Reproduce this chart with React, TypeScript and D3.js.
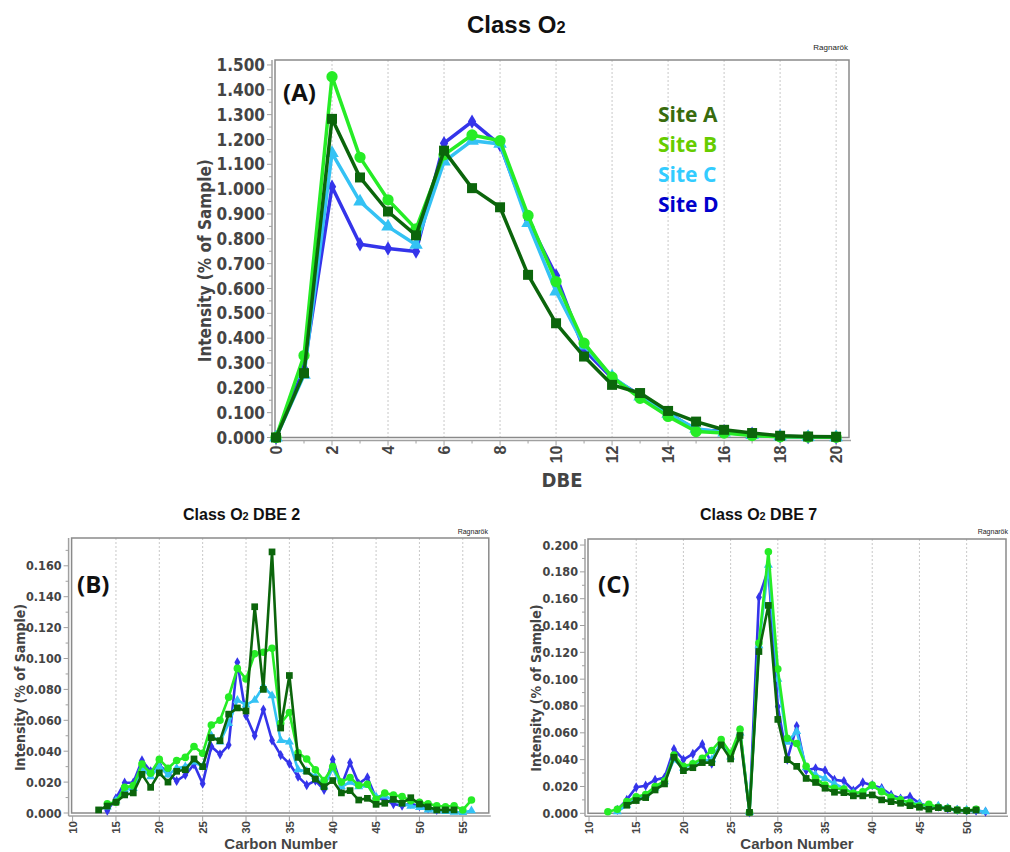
import React from 'react';
import * as d3 from 'd3';

// ---------- DATA ----------
const dbeValues = [0, 1, 2, 3, 4, 5, 6, 7, 8, 9, 10, 11, 12, 13, 14, 15, 16, 17, 18, 19, 20];
const dbeA = [0, 0.259, 1.283, 1.047, 0.910, 0.814, 1.155, 1.004, 0.927, 0.655, 0.460, 0.326, 0.212, 0.179, 0.107, 0.064, 0.031, 0.018, 0.007, 0.004, 0.003];
const dbeB = [0, 0.330, 1.453, 1.128, 0.957, 0.840, 1.138, 1.218, 1.195, 0.894, 0.628, 0.380, 0.243, 0.158, 0.085, 0.024, 0.018, 0.008, 0.003, 0.002, 0.001];
const dbeC = [0, 0.252, 1.145, 0.950, 0.849, 0.776, 1.111, 1.195, 1.182, 0.863, 0.588, 0.370, 0.245, 0.165, 0.095, 0.035, 0.020, 0.010, 0.004, 0.002, 0.001];
const dbeD = [0, 0.279, 1.010, 0.778, 0.761, 0.749, 1.185, 1.272, 1.178, 0.876, 0.652, 0.353, 0.240, 0.170, 0.100, 0.030, 0.025, 0.015, 0.005, 0.002, 0.001];

// DBE 2 by carbon number (first carbon number, then values)
const dbe2StartA = 13;
const dbe2A = [0.002, 0.0045, 0.007, 0.0117, 0.013, 0.025, 0.0166, 0.026, 0.020, 0.027, 0.028, 0.035, 0.030, 0.0488, 0.0468, 0.064, 0.068, 0.066, 0.1335, 0.080, 0.169, 0.055, 0.089, 0.036, 0.027, 0.022, 0.017, 0.021, 0.013, 0.0145, 0.0084, 0.0095, 0.0056, 0.0063, 0.0088, 0.0063, 0.0099, 0.0058, 0.004, 0.002, 0.002, 0.002];
const dbe2StartB = 14;
const dbe2B = [0.006, 0.007, 0.0166, 0.0177, 0.0317, 0.0257, 0.0347, 0.029, 0.034, 0.036, 0.043, 0.0386, 0.057, 0.060, 0.075, 0.0936, 0.0867, 0.103, 0.104, 0.1066, 0.058, 0.065, 0.039, 0.035, 0.028, 0.021, 0.030, 0.020, 0.023, 0.018, 0.0186, 0.0088, 0.013, 0.0116, 0.0106, 0.008, 0.007, 0.006, 0.0047, 0.004, 0.0047, 0.002, 0.0084];
const dbe2StartC = 14;
const dbe2C = [0.004, 0.008, 0.015, 0.016, 0.029, 0.0235, 0.030, 0.0246, 0.029, 0.030, 0.033, 0.030, 0.050, 0.046, 0.058, 0.073, 0.070, 0.073, 0.082, 0.076, 0.047, 0.046, 0.028, 0.027, 0.0235, 0.017, 0.029, 0.017, 0.020, 0.017, 0.018, 0.0106, 0.011, 0.0084, 0.006, 0.0045, 0.0037, 0.002, 0.0015, 0.001, 0.0006, 0.0004, 0.0015];
const dbe2StartD = 14;
const dbe2D = [0.0015, 0.0095, 0.0196, 0.0196, 0.034, 0.027, 0.031, 0.026, 0.0207, 0.0246, 0.0315, 0.019, 0.043, 0.038, 0.044, 0.0975, 0.063, 0.050, 0.067, 0.047, 0.0375, 0.032, 0.0235, 0.018, 0.021, 0.015, 0.0347, 0.0177, 0.0326, 0.019, 0.023, 0.0095, 0.0088, 0.0058, 0.0047, 0.006, 0.0045, 0.003, 0.002];

// DBE 7 by carbon number
const dbe7StartA = 14;
const dbe7A = [0.006, 0.0095, 0.0117, 0.0174, 0.0219, 0.0418, 0.0318, 0.034, 0.0378, 0.0378, 0.051, 0.0405, 0.058, 0.0007, 0.1206, 0.155, 0.070, 0.040, 0.035, 0.026, 0.023, 0.0187, 0.0157, 0.0154, 0.013, 0.013, 0.0137, 0.010, 0.0087, 0.0075, 0.0057, 0.0045, 0.003, 0.0042, 0.0035, 0.0025, 0.002, 0.0025];
const dbe7StartB = 12;
const dbe7B = [0.0012, 0.003, 0.0087, 0.0124, 0.014, 0.020, 0.024, 0.0435, 0.035, 0.037, 0.041, 0.0468, 0.055, 0.0448, 0.0627, 0.0007, 0.127, 0.195, 0.1075, 0.056, 0.052, 0.035, 0.026, 0.021, 0.0187, 0.018, 0.015, 0.016, 0.021, 0.016, 0.012, 0.010, 0.008, 0.0055, 0.0067, 0.0045, 0.0037, 0.0025, 0.002, 0.003];
const dbe7StartC = 13;
const dbe7C = [0.0012, 0.006, 0.011, 0.0137, 0.019, 0.0236, 0.040, 0.0336, 0.037, 0.039, 0.040, 0.053, 0.042, 0.060, 0.0007, 0.125, 0.185, 0.100, 0.053, 0.061, 0.034, 0.0286, 0.026, 0.022, 0.0187, 0.015, 0.016, 0.020, 0.0174, 0.012, 0.010, 0.008, 0.007, 0.005, 0.0055, 0.0037, 0.0025, 0.0025, 0.002, 0.0012];
const dbe7StartD = 13;
const dbe7D = [0.0025, 0.010, 0.0194, 0.0206, 0.0249, 0.0266, 0.0478, 0.040, 0.0443, 0.0515, 0.037, 0.053, 0.042, 0.062, 0.0007, 0.161, 0.182, 0.0796, 0.040, 0.065, 0.032, 0.0336, 0.032, 0.025, 0.024, 0.017, 0.023, 0.021, 0.0187, 0.0137, 0.011, 0.0124, 0.0075, 0.005, 0.005, 0.0037, 0.0025, 0.002, 0.002, 0.0012];

const siteNames = ['Site A', 'Site B', 'Site C', 'Site D'];
const lineColors = ['#0b650b', '#26ec26', '#34c2f4', '#3434ea'];
const legendColors = ['#386b0e', '#66cc00', '#33ccff', '#0000cc'];

const panelATicksY = [0, 0.1, 0.2, 0.3, 0.4, 0.5, 0.6, 0.7, 0.8, 0.9, 1.0, 1.1, 1.2, 1.3, 1.4, 1.5];
const panelATicksX = [0, 2, 4, 6, 8, 10, 12, 14, 16, 18, 20];
const panelBTicksY = [0, 0.02, 0.04, 0.06, 0.08, 0.10, 0.12, 0.14, 0.16];
const panelCTicksY = [0, 0.02, 0.04, 0.06, 0.08, 0.10, 0.12, 0.14, 0.16, 0.18, 0.20];
const carbonTicksB = [10, 15, 20, 25, 30, 35, 40, 45, 50, 55];
const carbonTicksC = [10, 15, 20, 25, 30, 35, 40, 45, 50];

// ---------- helpers ----------
type Pt = [number, number];
const fromStart = (start: number, vals: number[]): Pt[] => vals.map((v, i) => [start + i, v]);
const fromX = (xs: number[], vals: number[]): Pt[] => vals.map((v, i) => [xs[i], v]);

const symbols = [d3.symbolSquare, d3.symbolCircle, d3.symbolTriangle, d3.symbolDiamond];

const TICK_FONT = '"DejaVu Sans Condensed", "DejaVu Sans", sans-serif';
const ARIAL = '"Liberation Sans", Arial, sans-serif';
const TXT = '#444444';

interface PanelProps {
  left: number; right: number; top: number; bottom: number;
  xDomain: [number, number]; yDomain: [number, number];
  xTicks: number[]; xMinor: number[]; yTicks: number[]; yMinor: number[];
  grid: number[];
  series: Pt[][];
  tickFont: number; xTickFont: number; lineW: number; symSizes: number[];
  yLabel: string; yLabelX: number; yLabelFont: number;
  xLabel: string; xLabelY: number; xLabelX: number; xLabelFont: number; xLabelFamily: string;
  yFormat: (v: number) => string;
}

function Panel(p: PanelProps) {
  const x = d3.scaleLinear().domain(p.xDomain).range([p.left, p.right]);
  const y = d3.scaleLinear().domain(p.yDomain).range([p.bottom, p.top]);
  const line = d3.line<Pt>().x(d => x(d[0])).y(d => y(d[1]));
  const axX = p.left - 4;
  const axY = p.bottom + 3;
  const order = [3, 2, 1, 0];
  return (
    <g>
      {p.grid.map(g => (
        <line key={'g' + g} x1={x(g)} x2={x(g)} y1={p.top} y2={p.bottom} stroke="#c8c8c8" strokeDasharray="2,2" strokeWidth={1} />
      ))}
      <rect x={p.left - 1} y={p.top} width={p.right - p.left + 1} height={p.bottom - p.top} fill="none" stroke="#8a8a8a" strokeWidth={1.5} />
      {/* y axis */}
      <line x1={axX} x2={axX} y1={p.top} y2={axY} stroke="#a0a0a0" strokeWidth={1.5} />
      {p.yMinor.map(t => (
        <line key={'ym' + t} x1={axX - 3} x2={axX} y1={y(t)} y2={y(t)} stroke="#a0a0a0" strokeWidth={1} />
      ))}
      {p.yTicks.map(t => (
        <g key={'y' + t}>
          <line x1={axX - 5} x2={axX} y1={y(t)} y2={y(t)} stroke="#a0a0a0" strokeWidth={1} />
          <text x={axX - 7} y={y(t)} dy="0.36em" textAnchor="end" fontFamily={TICK_FONT} fontWeight="bold" fontSize={p.tickFont} fill={TXT}>{p.yFormat(t)}</text>
        </g>
      ))}
      {/* x axis */}
      <line x1={axX} x2={p.right + 2} y1={axY} y2={axY} stroke="#a0a0a0" strokeWidth={1.5} />
      {p.xMinor.map(t => (
        <line key={'xm' + t} x1={x(t)} x2={x(t)} y1={axY} y2={axY + 3} stroke="#a0a0a0" strokeWidth={1} />
      ))}
      {p.xTicks.map(t => (
        <g key={'x' + t}>
          <line x1={x(t)} x2={x(t)} y1={axY} y2={axY + 5} stroke="#a0a0a0" strokeWidth={1} />
          <text transform={`translate(${x(t)},${axY + 5}) rotate(-90)`} dy="0.36em" textAnchor="end" fontFamily={ARIAL} fontWeight="bold" fontSize={p.xTickFont} fill={TXT}>{t}</text>
        </g>
      ))}
      {/* series */}
      {order.map(i => (
        <g key={'s' + i}>
          <path d={line(p.series[i]) || ''} fill="none" stroke={lineColors[i]} strokeWidth={p.lineW} strokeLinejoin="round" />
          {p.series[i].map((d, j) => (
            <path key={j} transform={`translate(${x(d[0])},${y(d[1])})`} d={d3.symbol(symbols[i], p.symSizes[i])() || ''} fill={lineColors[i]} />
          ))}
        </g>
      ))}
      {/* labels */}
      <text transform={`translate(${p.yLabelX},${(p.top + p.bottom) / 2 + 12}) rotate(-90)`} textAnchor="middle" fontFamily={TICK_FONT} fontWeight="bold" fontSize={p.yLabelFont} fill={TXT}>{p.yLabel}</text>
      <text x={p.xLabelX} y={p.xLabelY} textAnchor="middle" fontFamily={p.xLabelFamily} fontWeight="bold" fontSize={p.xLabelFont} fill={TXT}>{p.xLabel}</text>
    </g>
  );
}

const LABEL_FONT = '"Open Sans", "Noto Sans", sans-serif';

function Title({ x, y, size, main, rest }: { x: number; y: number; size: number; main: string; rest: string }) {
  return (
    <text x={x} y={y} fontFamily={ARIAL} fontWeight="bold" fontSize={size} fill="#111">
      {main}
      <tspan fontSize={size * 0.68}>2</tspan>
      {rest}
    </text>
  );
}

export default function App() {
  const seriesA = [fromX(dbeValues, dbeA), fromX(dbeValues, dbeB), fromX(dbeValues, dbeC), fromX(dbeValues, dbeD)];
  const seriesB = [fromStart(dbe2StartA, dbe2A), fromStart(dbe2StartB, dbe2B), fromStart(dbe2StartC, dbe2C), fromStart(dbe2StartD, dbe2D)];
  const seriesC = [fromStart(dbe7StartA, dbe7A), fromStart(dbe7StartB, dbe7B), fromStart(dbe7StartC, dbe7C), fromStart(dbe7StartD, dbe7D)];
  const f3 = d3.format('.3f');
  const range = (a: number, b: number, s: number) => d3.range(a, b + s / 2, s);
  return (
    <svg width={1010} height={852} style={{ position: 'absolute', left: 0, top: 0, background: '#fff' }}>
      <rect width={1010} height={852} fill="#fff" />
      {/* Panel A */}
      <Title x={467} y={33} size={24} main="Class O" rest="" />
      <text x={848} y={50} textAnchor="end" fontFamily={ARIAL} fontSize={8} fill="#222">Ragnarök</text>
      <Panel left={276} right={849} top={60} bottom={437.5}
        xDomain={[0, 20.46]} yDomain={[0, 1.52]}
        xTicks={panelATicksX} xMinor={range(1, 19, 2)} yTicks={panelATicksY} yMinor={range(0.05, 1.45, 0.1)}
        grid={panelATicksX.slice(1)} series={seriesA} tickFont={17} xTickFont={16} lineW={3.5} symSizes={[100, 100, 80, 60]}
        yLabel="Intensity (% of Sample)" yLabelX={211} yLabelFont={17}
        xLabel="DBE" xLabelX={562} xLabelY={487} xLabelFont={20} xLabelFamily={TICK_FONT} yFormat={f3} />
      <text x={283} y={101} fontFamily={LABEL_FONT} fontWeight="bold" fontSize={24} fill="#111">(A)</text>
      {siteNames.map((n, i) => (
        <text key={n} x={658} y={122 + i * 30} fontFamily={LABEL_FONT} fontWeight="bold" fontSize={21} fill={legendColors[i]}>{n}</text>
      ))}

      {/* Panel B */}
      <Title x={183} y={520} size={16} main="Class O" rest=" DBE 2" />
      <text x={488} y={534} textAnchor="end" fontFamily={ARIAL} fontSize={7} fill="#222">Ragnarök</text>
      <Panel left={72.6} right={488.8} top={538} bottom={813}
        xDomain={[10, 58]} yDomain={[0, 0.178]}
        xTicks={carbonTicksB} xMinor={[]} yTicks={panelBTicksY} yMinor={range(0.01, 0.17, 0.02)}
        grid={carbonTicksB.slice(1)} series={seriesB} tickFont={12.5} xTickFont={11.5} lineW={2.6} symSizes={[45, 45, 35, 30]}
        yLabel="Intensity (% of Sample)" yLabelX={25} yLabelFont={14}
        xLabel="Carbon Number" xLabelX={281} xLabelY={849} xLabelFont={15} xLabelFamily={ARIAL} yFormat={f3} />
      <text x={77} y={593} fontFamily={LABEL_FONT} fontWeight="bold" fontSize={24} fill="#111">(B)</text>

      {/* Panel C */}
      <Title x={700} y={520} size={16} main="Class O" rest=" DBE 7" />
      <text x={1008} y={534} textAnchor="end" fontFamily={ARIAL} fontSize={7} fill="#222">Ragnarök</text>
      <Panel left={589} right={1006} top={539} bottom={813.3}
        xDomain={[10, 54.17]} yDomain={[0, 0.2045]}
        xTicks={carbonTicksC} xMinor={[]} yTicks={panelCTicksY} yMinor={range(0.01, 0.19, 0.02)}
        grid={carbonTicksC.slice(1)} series={seriesC} tickFont={12.5} xTickFont={11.5} lineW={2.6} symSizes={[45, 45, 35, 30]}
        yLabel="Intensity (% of Sample)" yLabelX={541} yLabelFont={14}
        xLabel="Carbon Number" xLabelX={797} xLabelY={849} xLabelFont={15} xLabelFamily={ARIAL} yFormat={f3} />
      <text x={598} y={593} fontFamily={LABEL_FONT} fontWeight="bold" fontSize={24} fill="#111">(C)</text>
    </svg>
  );
}
